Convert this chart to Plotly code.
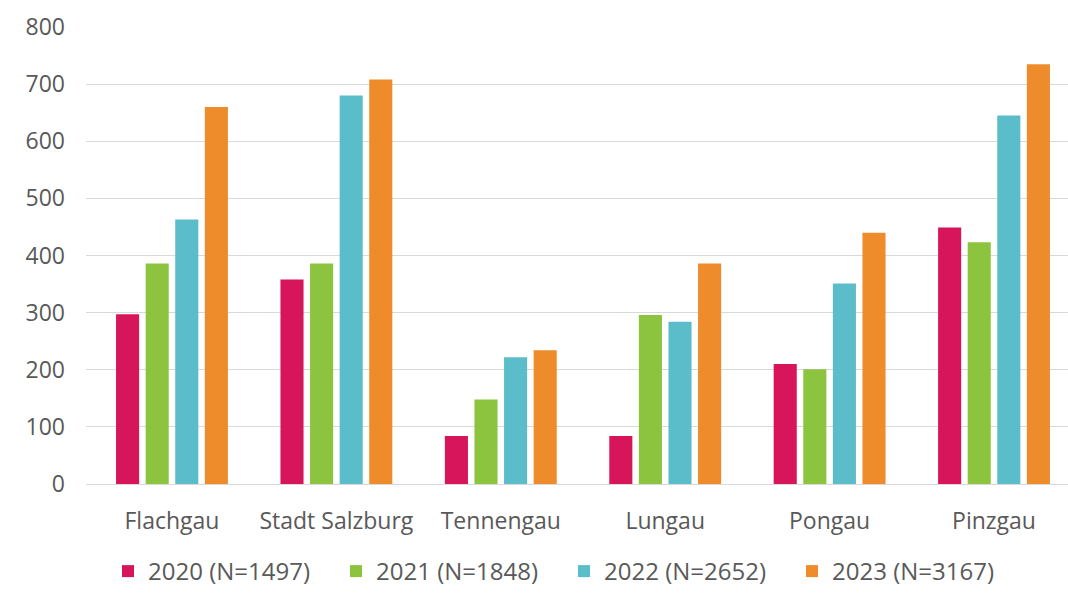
import plotly.graph_objects as go

categories = ["Flachgau", "Stadt Salzburg", "Tennengau", "Lungau", "Pongau", "Pinzgau"]
series_names = ["2020 (N=1497)", "2021 (N=1848)", "2022 (N=2652)", "2023 (N=3167)"]
v2020 = [297, 358, 84, 84, 210, 449]
v2021 = [386, 386, 148, 296, 201, 423]
v2022 = [463, 680, 222, 284, 351, 645]
v2023 = [660, 708, 234, 386, 440, 735]
colors = ["#D6155B", "#8CC43F", "#5BBDC9", "#EE8B2B"]
y_ticks = [0, 100, 200, 300, 400, 500, 600, 700, 800]

values = [v2020, v2021, v2022, v2023]
x_idx = list(range(len(categories)))

fig = go.Figure()
for name, vals, col in zip(series_names, values, colors):
    fig.add_trace(go.Bar(x=x_idx, y=vals, name=name, marker=dict(color=col, line=dict(width=0))))

font_family = "Open Sans"
grey = "#595959"

fig.update_layout(
    width=1068, height=594,
    margin=dict(l=86, r=0, t=27, b=110),
    paper_bgcolor="white", plot_bgcolor="white",
    barmode="group", bargap=0.28, bargroupgap=0.22,
    font=dict(family=font_family, color=grey),
    showlegend=True,
    legend=dict(
        orientation="h", xref="container", yref="container",
        x=108 / 1068, y=0.0, xanchor="left", yanchor="bottom",
        font=dict(size=24, color=grey, family=font_family),
        entrywidth=183, itemwidth=30, tracegroupgap=0,
    ),
    xaxis=dict(
        range=[-0.523, 5.45],
        tickmode="array", tickvals=x_idx, ticktext=categories,
        tickfont=dict(size=23, color=grey, family=font_family),
        showgrid=False, zeroline=False, showline=False,
        ticks="", ticklabelstandoff=21,
    ),
    yaxis=dict(
        range=[0, 800],
        tickmode="array", tickvals=y_ticks,
        tickfont=dict(size=23, color=grey, family=font_family),
        showgrid=True, gridcolor="#D9D9D9", gridwidth=1,
        zeroline=True, zerolinecolor="#D9D9D9", zerolinewidth=1,
        showline=False, ticks="", ticklabelstandoff=20,
    ),
)

fig.write_html("out.html", config={"displayModeBar": False},
               post_script="document.body.style.margin='0';")
